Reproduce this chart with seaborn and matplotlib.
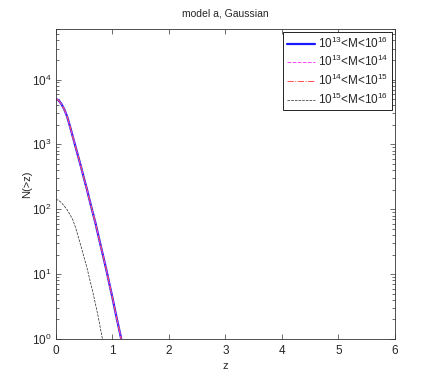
import matplotlib
matplotlib.use("Agg")
import matplotlib.pyplot as plt
import seaborn as sns
import pandas as pd

# redshift grid
z_all = [0.00, 0.05, 0.10, 0.15, 0.20, 0.25, 0.30, 0.35, 0.40, 0.45, 0.50, 0.55,
         0.60, 0.65, 0.70, 0.75, 0.80, 0.85, 0.90, 0.95, 1.00, 1.05, 1.10, 1.15, 1.20]
n_13_16 = [5012, 4786, 4169, 3467, 2692, 1905, 1318, 912, 631, 437, 295, 204,
           135, 91, 62, 40, 26, 17, 11, 6.9, 4.4, 2.7, 1.7, 1.07, 0.66]
# the two lower bins lie on top of the total curve
n_13_14 = [5012, 4786, 4169, 3467, 2692, 1905, 1318, 912, 631, 437, 295, 204,
           135, 91, 62, 40, 26, 17, 11, 6.9, 4.4, 2.7, 1.7, 1.07, 0.66]
n_14_15 = [5012, 4786, 4169, 3467, 2692, 1905, 1318, 912, 631, 437, 295, 204,
           135, 91, 62, 40, 26, 17, 11, 6.9, 4.4, 2.7, 1.7, 1.07, 0.66]
z_hi = [0.00, 0.05, 0.10, 0.15, 0.20, 0.25, 0.30, 0.35, 0.40, 0.45, 0.50, 0.55,
        0.60, 0.65, 0.70, 0.75, 0.80, 0.85]
n_15_16 = [141, 138, 126, 112, 98, 83, 69, 52, 37, 26, 18, 12.6, 8.3, 5.5, 3.5,
           2.2, 1.3, 0.76]

labels = [r"$10^{13}$<M<$10^{16}$", r"$10^{13}$<M<$10^{14}$",
          r"$10^{14}$<M<$10^{15}$", r"$10^{15}$<M<$10^{16}$"]

sns.set_style("ticks")
plt.rcParams["font.family"] = ["Liberation Sans", "DejaVu Sans"]
plt.rcParams["mathtext.default"] = "regular"
plt.rcParams["font.size"] = 8

fig = plt.figure(figsize=(4.36, 3.82), dpi=100)
ax = fig.add_axes([0.128, 0.1126, 0.778, 0.8114])

series = [
    (z_all, n_13_16, labels[0], "#1a1aff", "-", 1.6),
    (z_all, n_13_14, labels[1], "#ff40ff", "--", 0.7),
    (z_all, n_14_15, labels[2], "#ff5050", "-.", 0.7),
    (z_hi, n_15_16, labels[3], "#222222", "--", 0.5),
]
for zz, nn, lab, col, ls, lw in series:
    df = pd.DataFrame({"z": zz, "N": nn})
    sns.lineplot(data=df, x="z", y="N", ax=ax, color=col, linestyle=ls,
                 linewidth=lw, label=lab)

ax.set_yscale("log")
ax.set_xlim(0, 6)
ax.set_ylim(1, 6e4)
ax.set_xticks([0, 1, 2, 3, 4, 5, 6])
ax.set_xlabel("z", fontsize=8, labelpad=3)
ax.set_ylabel("N(>z)", fontsize=8, labelpad=0)
ax.set_title("model a, Gaussian", fontsize=7.5, pad=9)

ax.tick_params(which="both", direction="in", top=True, right=True,
               labelsize=8.5, width=0.5, color="#333333")
ax.tick_params(which="major", length=3.5, pad=3)
ax.tick_params(which="minor", length=2)
ax.tick_params(axis="x", which="major", pad=4)
ax.tick_params(axis="x", which="minor", bottom=False, top=False)
for s in ax.spines.values():
    s.set_linewidth(0.6)
    s.set_color("#333333")

leg = ax.legend(loc="upper right", fontsize=8.5, frameon=True, fancybox=False,
                edgecolor="black", framealpha=1, borderaxespad=0.25,
                handlelength=2.4, handletextpad=0.25, labelspacing=0.3,
                borderpad=0.3)
leg.get_frame().set_linewidth(0.6)

fig.savefig("out.png", dpi=100)
